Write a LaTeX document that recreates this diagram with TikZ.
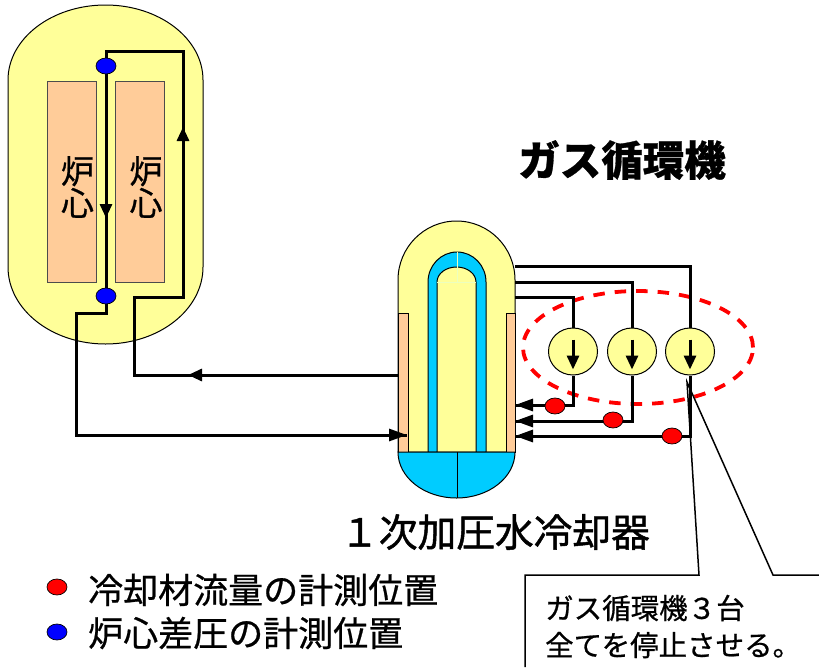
\documentclass[tikz,border=0pt]{standalone}
\usepackage{fontspec}
\setmainfont[FakeBold=0.7]{Noto Sans CJK JP}
\newfontfamily\headfont[FakeBold=1.2]{Noto Sans CJK JP}
\usetikzlibrary{arrows.meta,shapes.geometric,shapes.misc}
\definecolor{vesselyellow}{RGB}{255,255,153}
\definecolor{coreorange}{RGB}{255,204,153}
\definecolor{waterblue}{RGB}{0,204,255}
\definecolor{dotblue}{RGB}{0,0,255}
\definecolor{dotred}{RGB}{255,0,0}

\tikzset{
    shell/.style={draw=black,line width=1pt,fill=vesselyellow},
    coolant/.style={draw=black,line width=1pt,fill=waterblue},
    corebox/.style={rectangle,draw=black!70,line width=1pt,fill=coreorange,minimum width=49pt,minimum height=201pt,inner sep=0pt},
    pipe/.style={draw=black,line width=3pt,line join=miter},
    flowtip/.style={-{Triangle[length=14pt,width=12pt]}},
    inlettip/.style={-{Triangle[length=18pt,width=12pt]}},
    blueprobe/.style={ellipse,draw=black,line width=0.7pt,fill=dotblue,minimum width=20pt,minimum height=16pt,inner sep=0pt},
    redprobe/.style={ellipse,draw=black,line width=0.7pt,fill=dotred,minimum width=20pt,minimum height=16pt,inner sep=0pt},
    blower/.style={ellipse,shell,minimum width=49pt,minimum height=47pt,inner sep=0pt},
    caption/.style={inner sep=0pt,font=\fontsize{35}{35}\selectfont,anchor=west},
    corelabel/.style={inner sep=0pt,align=center,font=\fontsize{33}{32}\selectfont},
}

\begin{document}
\begin{tikzpicture}[x=1pt,y=-1pt]
    \useasboundingbox (0,0) rectangle (819,667);

    % reactor vessel
    \draw[shell] (8,80) arc[start angle=180,end angle=0,x radius=97.5pt,y radius=75pt]
        -- (203,267) arc[start angle=0,end angle=-180,x radius=97.5pt,y radius=77pt] -- cycle;
    \node[corebox] (coreleft) at (71.5,181.5) {};
    \node[corebox] (coreright) at (139.5,181.5) {};
    \node[corelabel] (labelleft) at (77.5,187) {炉\\心};
    \node[corelabel] (labelright) at (146,187) {炉\\心};

    % cooler
    \draw[shell] (398,280) arc[start angle=180,end angle=0,x radius=58.5pt,y radius=59pt]
        -- (515,452) -- (398,452) -- cycle;
    \draw[coolant] (428,452) -- (428,282) arc[start angle=180,end angle=0,x radius=29pt,y radius=30pt]
        -- (486,452) -- (476,452) -- (476,282) arc[start angle=0,end angle=180,x radius=19.5pt,y radius=15pt]
        -- (437,452) -- cycle;
    \draw[green!30!yellow!25,line width=0.5pt] (437,282) -- (476,282) (457,252) -- (457,282);
    \draw[shell,fill=coreorange] (398,313) rectangle (408,452);
    \draw[shell,fill=coreorange] (506,313) rectangle (515,452);
    \draw[coolant] (398,452) arc[start angle=180,end angle=360,x radius=58.5pt,y radius=46pt] -- cycle;
    \draw[black,line width=1pt] (457,452) -- (457,498);

    % circulators
    \draw[dotred,line width=3.8pt,dash pattern=on 11.5pt off 10pt] (638,347.5) ellipse[x radius=115pt,y radius=56.5pt];
    \node[blower] (blowera) at (573,351.5) {};
    \node[blower] (blowerb) at (632,351.5) {};
    \node[blower] (blowerc) at (690,351.5) {};
    \foreach \n in {blowera,blowerb,blowerc}
        \draw[pipe,flowtip] ([yshift=12pt]\n.center) -- ([yshift=-18pt]\n.center);

    % named points on the pipes
    \coordinate (topprobe) at (106,66);
    \coordinate (botprobe) at (106,296);
    \coordinate (coldout) at (398,375);
    \coordinate (hotin) at (407,435);
    \coordinate (outa) at (515,297);
    \coordinate (outb) at (515,282);
    \coordinate (outc) at (515,266);
    \coordinate (ina) at (515,405);
    \coordinate (inb) at (515,421);
    \coordinate (inc) at (515,436);

    % core loop
    \draw[pipe] (botprobe) -- (106,313) -- (76,313) -- (76,435) -- (hotin);
    \draw[pipe,inlettip] (300,435) -- (hotin);
    \draw[pipe] (topprobe) -- (botprobe);
    \draw[pipe,flowtip] (topprobe) -- (106,218);
    \draw[pipe] (topprobe) -- (106,51) -- (183,51) -- (183,297) -- (134,297) -- (134,375) -- (coldout);
    \draw[pipe,flowtip] (183,200) -- (183,127);
    \draw[pipe,flowtip] (300,375) -- (188,375);

    % circulator lines
    \draw[pipe] (outa) -| (blowera.north);
    \draw[pipe] (outb) -| (blowerb.north);
    \draw[pipe] (outc) -| (blowerc.north);
    \draw[pipe] (blowera.south) |- (ina);
    \draw[pipe] (blowerb.south) |- (inb);
    \draw[pipe] (blowerc.south) |- (inc);
    \draw[pipe,inlettip] (545,405) -- (ina);
    \draw[pipe,inlettip] (545,421) -- (inb);
    \draw[pipe,inlettip] (545,436) -- (inc);

    % probes
    \node[blueprobe] (bluetop) at (topprobe) {};
    \node[blueprobe] (bluebot) at (botprobe) {};
    \node[redprobe] (reda) at (555,406) {};
    \node[redprobe] (redb) at (613,420) {};
    \node[redprobe] (redc) at (672,436) {};

    % callout
    \coordinate (callouttip) at (687,382);
    \coordinate (calloutl) at (525,667);
    \coordinate (calloutr) at (819,575);
    \draw[black,line width=1.5pt] (calloutl) -- (525,575) -- (699,575) -- (callouttip) -- (773,575) -- (calloutr);
    \node[inner sep=0pt,anchor=west,font=\fontsize{28.5}{37}\selectfont,align=left] (callouttext) at (545,626.5) {ガス循環機\char"FF13台\\全てを停止させる。};

    % titles
    \node[inner sep=0pt,font=\bfseries\fontsize{41.5}{41.5}\selectfont] (titleblower) at (622,160) {ガス循環機};
    \node[inner sep=0pt,font=\headfont\fontsize{38.7}{39}\selectfont] (titlecooler) at (495,532) {\char"FF11次加圧水冷却器};

    % legend
    \node[redprobe] (legendred) at (57,587) {};
    \node[blueprobe] (legendblue) at (57,632) {};
    \node[caption] (textred) at (88,590) {冷却材流量の計測位置};
    \node[caption] (textblue) at (88,633) {炉心差圧の計測位置};
\end{tikzpicture}
\end{document}
